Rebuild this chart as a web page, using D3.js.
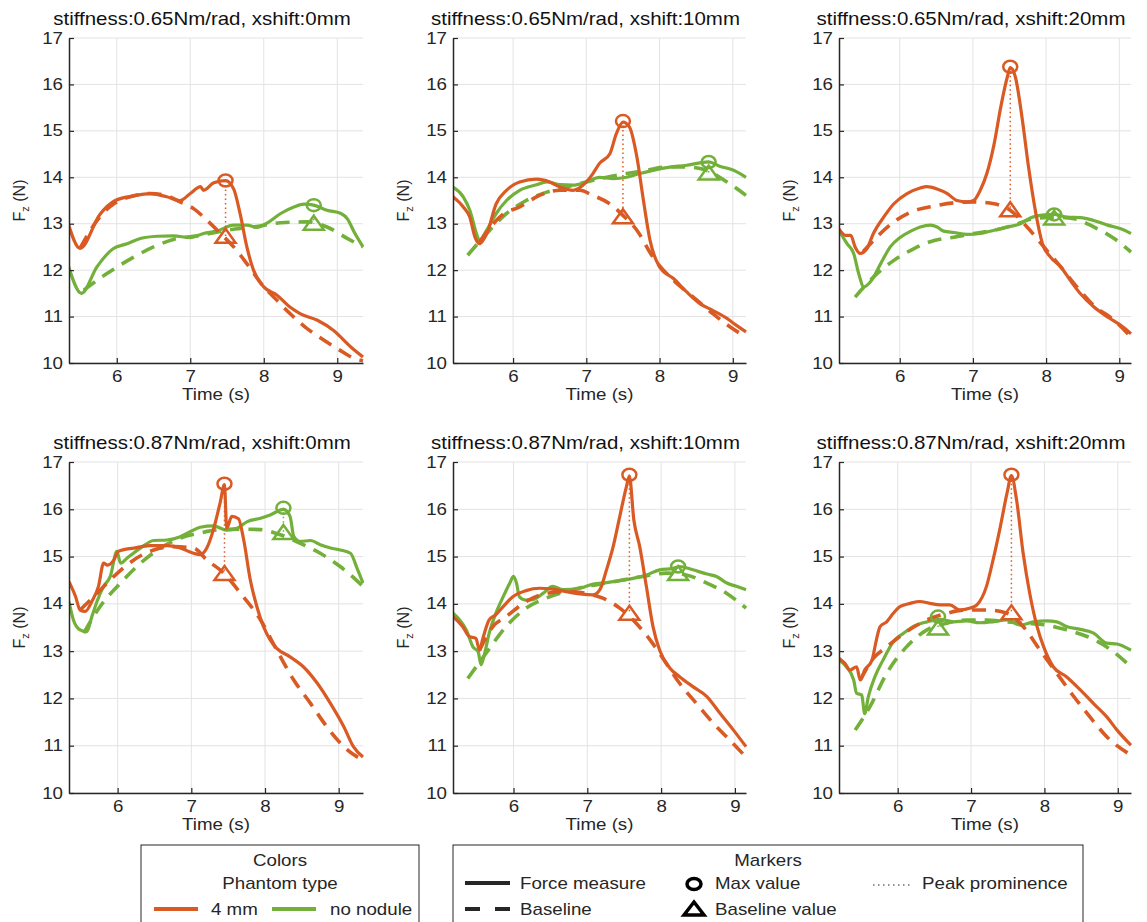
<!DOCTYPE html>
<html><head><meta charset="utf-8">
<script src="https://cdn.jsdelivr.net/npm/d3@7"></script>
<style>
body{margin:0;background:#fff}
svg{display:block}
text{font-family:"Liberation Sans",Arial,Helvetica,sans-serif}
</style>
</head><body>
<svg id="chart" width="1147" height="922"></svg>
<script>
// ---------------- DATA ----------------
const titles = [
  "stiffness:0.65Nm/rad, xshift:0mm",
  "stiffness:0.65Nm/rad, xshift:10mm",
  "stiffness:0.65Nm/rad, xshift:20mm",
  "stiffness:0.87Nm/rad, xshift:0mm",
  "stiffness:0.87Nm/rad, xshift:10mm",
  "stiffness:0.87Nm/rad, xshift:20mm"
];
const xlims = [[5.35,9.35],[5.18,9.18],[5.17,9.16],[5.34,9.33],[5.18,9.15],[5.2,9.18]];
const yDomain = [10,17];
const xTicks = [6,7,8,9];
const yTicks = [10,11,12,13,14,15,16,17];

// Force measure (solid) and baseline (dashed): [time s, Fz N]
const p1OrangeForce = [[5.34,13.0],[5.5,12.47],[5.77,13.2],[5.98,13.5],[6.23,13.6],[6.45,13.65],[6.68,13.58],[6.86,13.5],[7.0,13.65],[7.14,13.8],[7.18,13.72],[7.32,13.88],[7.48,13.93],[7.59,13.75],[7.68,13.2],[7.77,12.5],[7.86,12.0],[8.0,11.64],[8.18,11.46],[8.36,11.2],[8.5,11.06],[8.73,10.92],[8.95,10.7],[9.18,10.35],[9.35,10.13]];
const p1OrangeBase = [[5.5,12.47],[5.77,13.15],[5.98,13.45],[6.23,13.6],[6.45,13.65],[6.68,13.6],[6.86,13.47],[7.05,13.32],[7.23,13.07],[7.41,12.79],[7.59,12.5],[7.77,12.14],[8.0,11.64],[8.18,11.35],[8.36,11.06],[8.59,10.74],[8.82,10.49],[9.0,10.31],[9.23,10.1],[9.35,10.05]];
const p1GreenForce = [[5.34,12.1],[5.52,11.5],[5.73,12.07],[5.95,12.46],[6.14,12.57],[6.32,12.68],[6.55,12.73],[6.77,12.74],[7.0,12.7],[7.18,12.79],[7.36,12.84],[7.59,12.97],[7.77,12.97],[7.91,12.92],[8.05,13.02],[8.23,13.22],[8.41,13.36],[8.55,13.42],[8.68,13.4],[8.86,13.29],[9.05,13.22],[9.14,13.1],[9.23,12.82],[9.35,12.5]];
const p1GreenBase = [[5.55,11.57],[5.86,11.92],[6.23,12.28],[6.5,12.5],[6.77,12.66],[7.14,12.75],[7.5,12.86],[7.86,12.93],[8.23,13.02],[8.59,13.04],[8.86,12.93],[9.14,12.68],[9.35,12.5]];

const p2OrangeForce = [[5.18,13.58],[5.32,13.36],[5.41,13.14],[5.48,12.71],[5.54,12.57],[5.64,12.78],[5.77,13.43],[5.91,13.72],[6.09,13.9],[6.32,13.96],[6.5,13.9],[6.64,13.79],[6.82,13.72],[7.0,13.9],[7.09,14.08],[7.18,14.3],[7.32,14.5],[7.41,14.94],[7.5,15.19],[7.59,15.08],[7.69,14.44],[7.78,13.5],[7.87,12.64],[8.0,12.07],[8.19,11.82],[8.37,11.53],[8.55,11.28],[8.73,11.13],[8.92,10.96],[9.05,10.81],[9.18,10.67]];
const p2OrangeBase = [[5.54,12.6],[5.73,13.0],[5.86,13.2],[6.09,13.36],[6.36,13.61],[6.64,13.72],[6.91,13.72],[7.09,13.61],[7.32,13.43],[7.5,13.18],[7.69,12.86],[7.91,12.28],[8.19,11.78],[8.46,11.42],[8.73,11.06],[8.96,10.78],[9.18,10.56]];
const p2GreenForce = [[5.18,13.79],[5.32,13.58],[5.41,13.29],[5.5,12.79],[5.54,12.64],[5.64,12.86],[5.77,13.22],[5.91,13.5],[6.09,13.72],[6.32,13.84],[6.46,13.9],[6.64,13.84],[6.82,13.83],[7.0,13.9],[7.18,14.0],[7.37,13.97],[7.55,14.0],[7.73,14.08],[7.91,14.15],[8.14,14.22],[8.37,14.26],[8.55,14.31],[8.67,14.33],[8.82,14.24],[9.01,14.15],[9.18,14.0]];
const p2GreenBase = [[5.38,12.32],[5.64,12.79],[5.91,13.22],[6.18,13.5],[6.46,13.68],[6.73,13.79],[7.0,13.9],[7.28,14.0],[7.55,14.08],[7.82,14.15],[8.1,14.22],[8.37,14.22],[8.64,14.15],[8.92,13.9],[9.18,13.61]];

const p3OrangeForce = [[5.17,12.89],[5.26,12.75],[5.33,12.75],[5.39,12.5],[5.46,12.36],[5.55,12.46],[5.64,12.79],[5.78,13.14],[5.92,13.43],[6.1,13.65],[6.28,13.77],[6.37,13.8],[6.51,13.75],[6.65,13.65],[6.78,13.5],[6.92,13.47],[7.01,13.5],[7.1,13.72],[7.19,14.08],[7.29,14.72],[7.38,15.51],[7.47,16.16],[7.51,16.36],[7.58,16.16],[7.67,15.3],[7.76,14.22],[7.86,13.22],[7.95,12.57],[8.06,12.28],[8.2,12.07],[8.33,11.78],[8.47,11.49],[8.65,11.21],[8.84,10.99],[9.02,10.81],[9.16,10.63]];
const p3OrangeBase = [[5.5,12.4],[5.71,12.75],[5.92,13.04],[6.15,13.25],[6.47,13.38],[6.74,13.45],[7.01,13.47],[7.29,13.43],[7.51,13.29],[7.74,12.93],[7.97,12.5],[8.2,12.07],[8.42,11.64],[8.65,11.24],[8.93,10.92],[9.16,10.56]];
const p3GreenForce = [[5.17,12.86],[5.28,12.57],[5.37,12.36],[5.44,11.92],[5.51,11.64],[5.6,11.75],[5.74,12.14],[5.87,12.5],[6.01,12.71],[6.15,12.84],[6.28,12.93],[6.42,12.97],[6.51,12.93],[6.6,12.84],[6.74,12.81],[6.92,12.77],[7.1,12.79],[7.29,12.86],[7.47,12.93],[7.65,13.0],[7.79,13.13],[7.92,13.18],[8.11,13.2],[8.29,13.14],[8.47,13.13],[8.65,13.07],[8.84,12.97],[9.02,12.89],[9.16,12.79]];
const p3GreenBase = [[5.39,11.42],[5.64,11.85],[5.92,12.21],[6.19,12.46],[6.47,12.64],[6.74,12.71],[7.01,12.79],[7.29,12.86],[7.56,12.97],[7.83,13.11],[8.11,13.14],[8.38,13.11],[8.65,12.93],[8.93,12.68],[9.16,12.39]];

const p4OrangeForce = [[5.34,14.47],[5.43,14.15],[5.49,13.87],[5.56,13.84],[5.65,14.05],[5.74,14.37],[5.81,14.86],[5.86,14.82],[5.95,14.93],[6.01,15.11],[6.22,15.18],[6.44,15.23],[6.67,15.23],[6.85,15.18],[7.03,15.07],[7.12,15.04],[7.21,15.18],[7.3,15.57],[7.39,16.13],[7.45,16.52],[7.48,15.6],[7.55,15.85],[7.64,15.8],[7.71,15.36],[7.8,14.51],[7.89,13.94],[7.98,13.52],[8.07,13.24],[8.16,13.06],[8.34,12.88],[8.52,12.67],[8.71,12.32],[8.89,11.89],[9.07,11.4],[9.2,10.98],[9.33,10.76]];
const p4OrangeBase = [[5.49,13.87],[5.72,14.22],[5.95,14.58],[6.22,14.93],[6.49,15.14],[6.76,15.21],[7.03,15.18],[7.21,14.93],[7.44,14.65],[7.67,14.22],[7.94,13.66],[8.16,13.02],[8.39,12.39],[8.62,11.89],[8.84,11.4],[9.07,10.98],[9.33,10.69]];
const p4GreenForce = [[5.34,14.05],[5.4,13.66],[5.49,13.45],[5.58,13.41],[5.65,13.73],[5.72,14.05],[5.81,14.37],[5.9,14.58],[5.99,15.11],[6.04,14.86],[6.13,14.97],[6.31,15.18],[6.49,15.34],[6.67,15.35],[6.85,15.42],[6.99,15.53],[7.12,15.62],[7.3,15.65],[7.48,15.56],[7.62,15.6],[7.76,15.74],[7.94,15.81],[8.07,15.88],[8.25,16.0],[8.34,15.85],[8.39,15.43],[8.48,15.32],[8.62,15.34],[8.75,15.25],[8.89,15.18],[9.02,15.14],[9.16,15.07],[9.25,14.75],[9.33,14.44]];
const p4GreenBase = [[5.54,13.38],[5.76,13.94],[6.04,14.44],[6.31,14.86],[6.58,15.18],[6.85,15.39],[7.12,15.5],[7.39,15.57],[7.67,15.58],[7.94,15.57],[8.21,15.46],[8.48,15.28],[8.75,15.07],[9.02,14.79],[9.33,14.37]];

const p5OrangeForce = [[5.18,13.73],[5.31,13.52],[5.4,13.31],[5.49,13.27],[5.54,13.02],[5.58,13.24],[5.67,13.66],[5.76,13.77],[5.86,13.94],[5.99,14.15],[6.17,14.28],[6.35,14.33],[6.53,14.31],[6.71,14.26],[6.9,14.21],[7.08,14.19],[7.17,14.3],[7.26,14.72],[7.35,15.21],[7.44,15.85],[7.53,16.48],[7.57,16.7],[7.63,15.78],[7.71,15.21],[7.8,14.37],[7.89,13.52],[7.98,13.02],[8.12,12.64],[8.25,12.46],[8.43,12.25],[8.62,12.04],[8.8,11.68],[8.98,11.33],[9.15,10.98]];
const p5OrangeBase = [[5.54,13.02],[5.72,13.52],[5.9,13.73],[6.17,14.05],[6.44,14.22],[6.71,14.26],[6.99,14.22],[7.21,14.12],[7.44,13.91],[7.62,13.66],[7.85,13.24],[8.07,12.74],[8.25,12.32],[8.48,11.89],[8.71,11.47],[8.93,11.12],[9.15,10.76]];
const p5GreenForce = [[5.18,13.8],[5.27,13.66],[5.36,13.45],[5.45,13.09],[5.52,12.99],[5.56,12.71],[5.61,12.96],[5.67,13.38],[5.76,13.8],[5.86,14.15],[5.95,14.44],[6.0,14.58],[6.04,14.44],[6.08,14.15],[6.17,14.08],[6.26,14.09],[6.4,14.22],[6.53,14.37],[6.67,14.3],[6.9,14.33],[7.08,14.42],[7.26,14.45],[7.44,14.49],[7.62,14.54],[7.8,14.61],[7.98,14.72],[8.16,14.75],[8.25,14.79],[8.43,14.72],[8.62,14.63],[8.75,14.58],[8.89,14.44],[9.02,14.37],[9.15,14.3]];
const p5GreenBase = [[5.38,12.42],[5.63,12.96],[5.9,13.52],[6.17,13.91],[6.44,14.12],[6.71,14.26],[6.99,14.37],[7.26,14.44],[7.53,14.52],[7.8,14.59],[8.07,14.65],[8.34,14.61],[8.62,14.44],[8.89,14.22],[9.15,13.91]];

const p6OrangeForce = [[5.2,12.85],[5.28,12.74],[5.35,12.6],[5.44,12.67],[5.49,12.39],[5.55,12.6],[5.65,12.81],[5.71,13.24],[5.76,13.52],[5.85,13.62],[5.94,13.8],[6.03,13.94],[6.17,14.01],[6.3,14.05],[6.44,14.01],[6.58,13.98],[6.71,13.98],[6.85,13.87],[6.99,13.91],[7.08,13.98],[7.21,14.37],[7.3,14.93],[7.4,15.64],[7.49,16.34],[7.55,16.71],[7.62,16.2],[7.71,15.07],[7.8,14.22],[7.9,13.52],[7.99,13.09],[8.12,12.67],[8.3,12.46],[8.49,12.18],[8.67,11.89],[8.85,11.61],[8.99,11.33],[9.18,11.01]];
const p6OrangeBase = [[5.49,12.39],[5.67,12.85],[5.85,13.09],[6.12,13.41],[6.4,13.66],[6.67,13.8],[6.94,13.87],[7.21,13.87],[7.49,13.8],[7.71,13.52],[7.94,13.02],[8.17,12.53],[8.4,12.04],[8.62,11.61],[8.85,11.19],[9.18,10.8]];
const p6GreenForce = [[5.2,12.81],[5.3,12.67],[5.4,12.39],[5.44,12.11],[5.51,12.07],[5.55,11.68],[5.6,12.04],[5.69,12.46],[5.8,12.81],[5.94,13.2],[6.08,13.38],[6.21,13.52],[6.4,13.62],[6.58,13.67],[6.76,13.62],[6.94,13.64],[7.12,13.6],[7.3,13.62],[7.49,13.66],[7.67,13.55],[7.85,13.62],[8.03,13.64],[8.17,13.62],[8.3,13.52],[8.49,13.46],[8.67,13.38],[8.85,13.17],[8.99,13.15],[9.18,13.02]];
const p6GreenBase = [[5.42,11.33],[5.62,11.82],[5.85,12.53],[6.12,13.09],[6.4,13.45],[6.67,13.59],[6.94,13.66],[7.21,13.66],[7.49,13.62],[7.76,13.59],[8.03,13.55],[8.3,13.45],[8.58,13.31],[8.85,13.09],[9.18,12.67]];

// Peak markers per panel
const orangePeakT    = [7.48, 7.50, 7.51, 7.45, 7.57, 7.55];
const orangePeakMax  = [13.93, 15.21, 16.38, 16.54, 16.73, 16.73];
const orangePeakBase = [12.72, 13.14, 13.29, 14.63, 13.79, 13.80];
const greenPeakT     = [8.68, 8.67, 8.11, 8.25, 8.23, 6.55];
const greenPeakMax   = [13.40, 14.33, 13.20, 16.03, 14.79, 13.73];
const greenPeakBase  = [13.00, 14.08, 13.11, 15.50, 14.63, 13.48];

const phantomTypes = ["4 mm", "no nodule"];
const colors = ["#DA5A24", "#72B03A"];

const orangeForce = [p1OrangeForce,p2OrangeForce,p3OrangeForce,p4OrangeForce,p5OrangeForce,p6OrangeForce];
const orangeBase  = [p1OrangeBase,p2OrangeBase,p3OrangeBase,p4OrangeBase,p5OrangeBase,p6OrangeBase];
const greenForce  = [p1GreenForce,p2GreenForce,p3GreenForce,p4GreenForce,p5GreenForce,p6GreenForce];
const greenBase   = [p1GreenBase,p2GreenBase,p3GreenBase,p4GreenBase,p5GreenBase,p6GreenBase];

// ---------------- LAYOUT ----------------
const SX = 1.17; // horizontal glyph stretch of the reference
const ink = "#262626";
const colLeft = [69, 453, 839], colRight = [363, 746, 1131];
const rowTop = [38, 462], rowBottom = [363, 793];

const svg = d3.select("#chart");

function label(g, x, y, str, size, anchor, fill) {
  return g.append("text")
    .attr("transform", `translate(${x},${y}) scale(${SX},1)`)
    .attr("text-anchor", anchor || "middle")
    .attr("font-size", size)
    .attr("fill", fill || ink)
    .text(str);
}

titles.forEach((title, i) => {
  const r = Math.floor(i / 3), c = i % 3;
  const x = d3.scaleLinear().domain(xlims[i]).range([colLeft[c], colRight[c]]);
  const y = d3.scaleLinear().domain(yDomain).range([rowBottom[r], rowTop[r]]);
  const g = svg.append("g");

  // grid
  g.append("g").selectAll("line").data(xTicks).join("line")
    .attr("x1", d => x(d)).attr("x2", d => x(d))
    .attr("y1", y(yDomain[0])).attr("y2", y(yDomain[1]))
    .attr("stroke", "#e3e3e3").attr("stroke-width", 1);
  g.append("g").selectAll("line").data(yTicks).join("line")
    .attr("x1", x.range()[0]).attr("x2", x.range()[1])
    .attr("y1", d => y(d)).attr("y2", d => y(d))
    .attr("stroke", "#e3e3e3").attr("stroke-width", 1);

  // clip
  const cid = "clip" + i;
  g.append("clipPath").attr("id", cid).append("rect")
    .attr("x", x.range()[0]).attr("y", y.range()[1] - 2)
    .attr("width", x.range()[1] - x.range()[0] + 1)
    .attr("height", y.range()[0] - y.range()[1] + 2);

  const line = d3.line().x(d => x(d[0])).y(d => y(d[1])).curve(d3.curveMonotoneX);
  const plot = g.append("g").attr("clip-path", `url(#${cid})`);

  const series = [
    {data: greenBase[i], color: colors[1], dash: "14,9", w: 3.6},
    {data: greenForce[i], color: colors[1], dash: null, w: 3.2},
    {data: orangeBase[i], color: colors[0], dash: "14,9", w: 3.6},
    {data: orangeForce[i], color: colors[0], dash: null, w: 3.2}
  ];
  series.forEach(s => {
    plot.append("path").datum(s.data)
      .attr("d", line).attr("fill", "none")
      .attr("stroke", s.color).attr("stroke-width", s.w)
      .attr("stroke-dasharray", s.dash)
      .attr("stroke-linejoin", "round");
  });

  // peak markers
  const peaks = [
    {t: greenPeakT[i], mx: greenPeakMax[i], b: greenPeakBase[i], color: colors[1]},
    {t: orangePeakT[i], mx: orangePeakMax[i], b: orangePeakBase[i], color: colors[0]}
  ];
  peaks.forEach(p => {
    g.append("line")
      .attr("x1", x(p.t)).attr("x2", x(p.t))
      .attr("y1", y(p.mx)).attr("y2", y(p.b))
      .attr("stroke", p.color).attr("stroke-width", 1.5)
      .attr("stroke-dasharray", "1.5,3");
    g.append("ellipse")
      .attr("cx", x(p.t)).attr("cy", y(p.mx))
      .attr("rx", 7).attr("ry", 6)
      .attr("fill", "none").attr("stroke", p.color).attr("stroke-width", 2.5);
    g.append("path")
      .attr("transform", `translate(${x(p.t)},${y(p.b)})`)
      .attr("d", "M0,-8L10,6L-10,6Z")
      .attr("fill", "none").attr("stroke", p.color).attr("stroke-width", 2.5)
      .attr("stroke-linejoin", "miter");
  });

  // axes
  const fmt = d3.format("d");
  const ax = g.append("g").attr("transform", `translate(0,${rowBottom[r]})`)
    .call(d3.axisBottom(x).tickValues(xTicks).tickFormat(fmt).tickSize(-5).tickSizeOuter(0).tickPadding(8));
  const ay = g.append("g").attr("transform", `translate(${colLeft[c]},0)`)
    .call(d3.axisLeft(y).tickValues(yTicks).tickFormat(fmt).tickSize(-5).tickSizeOuter(0).tickPadding(6));
  [ax, ay].forEach(a => {
    a.select(".domain").attr("stroke", ink).attr("stroke-width", 1.5);
    a.selectAll(".tick line").attr("stroke", ink).attr("stroke-width", 1.2);
    a.selectAll(".tick text").attr("font-size", 16)
      .attr("font-family", '"Liberation Sans",Arial,Helvetica,sans-serif')
      .attr("fill", ink);
  });
  ax.selectAll(".tick text").attr("transform", `scale(${SX},1)`);
  ay.selectAll(".tick text").attr("x", -6 / SX).attr("transform", `scale(${SX},1)`);

  const cx = (colLeft[c] + colRight[c]) / 2;
  const cy = (rowTop[r] + rowBottom[r]) / 2;

  // title
  label(g, cx - 14, rowTop[r] - 13, title, 17.5, "middle", "#111");
  // x label
  label(g, cx, rowBottom[r] + 37, "Time (s)", 16);
  // y label
  const yl = g.append("text")
    .attr("transform", `translate(${colLeft[c] - 44},${cy}) rotate(-90)`)
    .attr("text-anchor", "middle").attr("font-size", 16).attr("fill", ink);
  yl.append("tspan").text("F");
  yl.append("tspan").attr("font-size", 11).attr("dy", 4).text("z");
  yl.append("tspan").attr("dy", -4).text(" (N)");
});

// ---------------- LEGENDS ----------------
const lg = svg.append("g");
lg.append("rect").attr("x", 141).attr("y", 845).attr("width", 278).attr("height", 90)
  .attr("fill", "#fff").attr("stroke", ink).attr("stroke-width", 1);
lg.append("rect").attr("x", 453).attr("y", 845).attr("width", 630).attr("height", 90)
  .attr("fill", "#fff").attr("stroke", ink).attr("stroke-width", 1);

label(lg, 280, 866, "Colors", 16);
label(lg, 280, 889, "Phantom type", 16);
const swatchX = [154, 272], textX = [211, 330];
phantomTypes.forEach((name, k) => {
  lg.append("line").attr("x1", swatchX[k]).attr("x2", swatchX[k] + 44)
    .attr("y1", 909).attr("y2", 909)
    .attr("stroke", colors[k]).attr("stroke-width", 4);
  label(lg, textX[k], 915, name, 16, "start");
});

label(lg, 768, 866, "Markers", 16);
lg.append("line").attr("x1", 465).attr("x2", 510).attr("y1", 883).attr("y2", 883)
  .attr("stroke", ink).attr("stroke-width", 4);
label(lg, 520, 889, "Force measure", 16, "start");
lg.append("line").attr("x1", 465).attr("x2", 510).attr("y1", 909).attr("y2", 909)
  .attr("stroke", ink).attr("stroke-width", 4).attr("stroke-dasharray", "15,15");
label(lg, 520, 915, "Baseline", 16, "start");
lg.append("ellipse").attr("cx", 694).attr("cy", 884).attr("rx", 7).attr("ry", 5.5)
  .attr("fill", "none").attr("stroke", "#000").attr("stroke-width", 3.5);
label(lg, 715, 889, "Max value", 16, "start");
lg.append("path").attr("transform", "translate(694,909)").attr("d", "M0,-7L10,6L-10,6Z")
  .attr("fill", "none").attr("stroke", "#000").attr("stroke-width", 3.5);
label(lg, 715, 915, "Baseline value", 16, "start");
lg.append("line").attr("x1", 873).attr("x2", 912).attr("y1", 885).attr("y2", 885)
  .attr("stroke", ink).attr("stroke-width", 1.2).attr("stroke-dasharray", "1.5,3.5");
label(lg, 922, 889, "Peak prominence", 16, "start");
</script>
</body></html>
